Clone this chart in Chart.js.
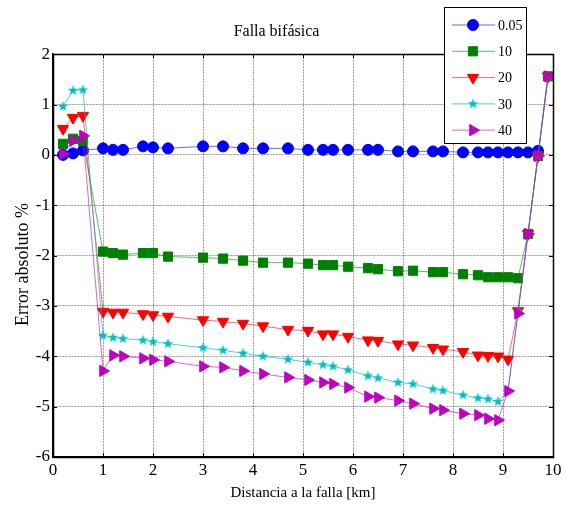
<!DOCTYPE html>
<html>
<head>
<meta charset="utf-8">
<script src="https://cdn.jsdelivr.net/npm/chart.js@4.4.0/dist/chart.umd.min.js"></script>
<style>
  html, body { margin: 0; padding: 0; background: #fff; }
  #wrap { width: 568px; height: 506px; }
</style>
</head>
<body>
<div id="wrap"><canvas id="c" width="568" height="506"></canvas></div>
<script>
// Distancia a la falla (km) de cada caso simulado
const distanciaKm = [0.2, 0.4, 0.6, 1.0, 1.2, 1.4, 1.8, 2.0, 2.3, 3.0, 3.4, 3.8, 4.2, 4.7, 5.1, 5.4, 5.6,
  5.9, 6.3, 6.5, 6.9, 7.2, 7.6, 7.8, 8.2, 8.5, 8.7, 8.9, 9.1, 9.3, 9.5, 9.7, 9.9];

// Resistencia de falla (ohm) de cada serie
const serieLabels = ['0.05', '10', '20', '30', '40'];

// Error absoluto (%) por serie
const err005 = [0.00, 0.03, 0.09, 0.13, 0.10, 0.10, 0.17, 0.15, 0.13, 0.17, 0.17, 0.13, 0.13, 0.13, 0.10, 0.10,
  0.10, 0.10, 0.10, 0.10, 0.07, 0.07, 0.07, 0.07, 0.05, 0.05, 0.05, 0.05, 0.05, 0.05, 0.05, 0.08];
const err10 = [0.22, 0.32, 0.28, -1.92, -1.95, -1.98, -1.95, -1.95, -2.02, -2.04, -2.06, -2.10, -2.14, -2.14,
  -2.16, -2.19, -2.19, -2.22, -2.25, -2.27, -2.31, -2.30, -2.33, -2.33, -2.37, -2.39, -2.43, -2.43, -2.43,
  -2.45, -1.57, -0.02, 1.56];
const err20 = [0.52, 0.74, 0.78, -3.11, -3.13, -3.13, -3.16, -3.18, -3.21, -3.28, -3.31, -3.35, -3.40, -3.47,
  -3.49, -3.56, -3.56, -3.61, -3.68, -3.69, -3.76, -3.78, -3.83, -3.86, -3.91, -3.98, -3.99, -4.00, -4.06,
  -3.10, -1.57, -0.02, 1.56];
const err30 = [0.96, 1.28, 1.29, -3.59, -3.63, -3.65, -3.68, -3.71, -3.75, -3.83, -3.88, -3.94, -4.00, -4.06,
  -4.12, -4.17, -4.20, -4.27, -4.39, -4.43, -4.52, -4.55, -4.65, -4.68, -4.77, -4.83, -4.85, -4.90, -4.69,
  -3.10, -1.57, -0.02, 1.56];
const err40 = [0.02, 0.28, 0.38, -4.29, -3.98, -4.00, -4.04, -4.07, -4.10, -4.20, -4.22, -4.29, -4.35, -4.42,
  -4.47, -4.52, -4.55, -4.62, -4.80, -4.82, -4.88, -4.94, -5.04, -5.07, -5.14, -5.17, -5.24, -5.27, -4.69,
  -3.15, -1.57, -0.02, 1.56];

const xTicks = [0, 1, 2, 3, 4, 5, 6, 7, 8, 9, 10];
const yTicks = [-6, -5, -4, -3, -2, -1, 0, 1, 2];

const SERIF = '"Liberation Serif", "Times New Roman", serif';

// Filled five-pointed star used as a point marker
function makeStar(color, outer) {
  const size = Math.ceil(outer * 2 + 2);
  const cv = document.createElement('canvas');
  cv.width = size; cv.height = size;
  const g = cv.getContext('2d');
  const c = size / 2, inner = outer * 0.42;
  g.beginPath();
  for (let k = 0; k < 10; k++) {
    const r = k % 2 === 0 ? outer : inner;
    const a = -Math.PI / 2 + k * Math.PI / 5;
    const px = c + r * Math.cos(a), py = c + r * Math.sin(a);
    if (k === 0) g.moveTo(px, py); else g.lineTo(px, py);
  }
  g.closePath();
  g.fillStyle = color;
  g.fill();
  return cv;
}

const pairs = ys => ys.map((y, i) => ({ x: distanciaKm[i], y }));

const styles = [
  { color: '#0000ff', line: 'rgba(0,0,255,0.6)', pointStyle: 'circle', radius: 5.5, rotation: 0 },
  { color: '#008000', line: 'rgba(0,128,0,0.6)', pointStyle: 'rect', radius: 6.5, rotation: 0 },
  { color: '#ff0000', line: 'rgba(255,0,0,0.6)', pointStyle: 'triangle', radius: 6.5, rotation: 180 },
  { color: '#00bfbf', line: 'rgba(0,191,191,0.7)', pointStyle: makeStar('#00bfbf', 5.5), radius: 5, rotation: 0 },
  { color: '#bf00bf', line: 'rgba(191,0,191,0.6)', pointStyle: 'triangle', radius: 6.5, rotation: 90 }
];
const seriesValues = [err005, err10, err20, err30, err40];

const datasets = seriesValues.map((vals, i) => ({
  label: serieLabels[i],
  data: pairs(vals),
  borderColor: styles[i].line,
  borderWidth: 1,
  backgroundColor: styles[i].color,
  pointBackgroundColor: styles[i].color,
  pointBorderColor: styles[i].color,
  pointBorderWidth: 1,
  pointStyle: styles[i].pointStyle,
  pointRadius: styles[i].radius,
  pointRotation: styles[i].rotation,
  tension: 0,
  // later series are painted on top
  order: seriesValues.length - i
}));

// Axes box with inward tick marks on all four sides
const framePlugin = {
  id: 'frame',
  afterDatasetsDraw(chart) {
    const { ctx, chartArea: a, scales } = chart;
    ctx.save();
    ctx.strokeStyle = '#000';
    ctx.lineWidth = 1;
    ctx.beginPath();
    xTicks.forEach(v => {
      const px = Math.round(scales.x.getPixelForValue(v)) + 0.5;
      ctx.moveTo(px, a.bottom); ctx.lineTo(px, a.bottom - 4);
      ctx.moveTo(px, a.top); ctx.lineTo(px, a.top + 4);
    });
    yTicks.forEach(v => {
      const py = Math.round(scales.y.getPixelForValue(v)) + 0.5;
      ctx.moveTo(a.left, py); ctx.lineTo(a.left + 4, py);
      ctx.moveTo(a.right, py); ctx.lineTo(a.right - 4, py);
    });
    ctx.stroke();
    ctx.lineWidth = 1.5;
    ctx.strokeRect(Math.round(a.left) + 0.5, Math.round(a.top) + 0.5,
      Math.round(a.right - a.left), Math.round(a.bottom - a.top));
    ctx.restore();
  }
};

// Boxed legend in the upper right corner
const boxLegendPlugin = {
  id: 'boxLegend',
  afterDraw(chart) {
    const { ctx } = chart;
    const bx = 444, by = 7, bw = 82, bh = 136;
    ctx.save();
    ctx.fillStyle = '#fff';
    ctx.fillRect(bx, by, bw, bh);
    ctx.strokeStyle = '#000';
    ctx.lineWidth = 1;
    ctx.strokeRect(bx + 0.5, by + 0.5, bw, bh);
    chart.data.datasets.forEach((ds, i) => {
      const y = 25 + i * 26.3;
      ctx.strokeStyle = ds.borderColor;
      ctx.lineWidth = 1;
      ctx.beginPath();
      ctx.moveTo(452, y); ctx.lineTo(495, y);
      ctx.stroke();
      ctx.fillStyle = ds.pointBackgroundColor;
      ctx.strokeStyle = ds.pointBorderColor;
      Chart.helpers.drawPoint(ctx, {
        pointStyle: ds.pointStyle, rotation: ds.pointRotation,
        radius: ds.pointRadius, borderWidth: 1
      }, 473, y);
      ctx.fillStyle = '#000';
      ctx.font = '14px ' + SERIF;
      ctx.textAlign = 'left';
      ctx.textBaseline = 'middle';
      ctx.fillText(ds.label, 498, y + 1);
    });
    ctx.restore();
  }
};

new Chart(document.getElementById('c'), {
  type: 'line',
  data: { datasets },
  options: {
    responsive: false,
    animation: false,
    devicePixelRatio: 1,
    layout: { padding: { left: 0, right: 15, top: 0, bottom: 0 } },
    plugins: {
      legend: { display: false },
      tooltip: { enabled: false },
      title: {
        display: true,
        text: 'Falla bifásica',
        color: '#000',
        font: { family: SERIF, size: 16, weight: 'normal', lineHeight: 1.2 },
        padding: { top: 22, bottom: 13 }
      }
    },
    scales: {
      x: {
        type: 'linear',
        min: 0, max: 10,
        afterBuildTicks: s => { s.ticks = xTicks.map(v => ({ value: v })); },
        afterFit: s => { s.height = 49; s.paddingLeft = 0; s.paddingRight = 0; },
        ticks: {
          color: '#000', padding: 3, maxRotation: 0, autoSkip: false,
          font: { family: SERIF, size: 17 }
        },
        grid: { color: 'rgba(0,0,0,0.4)', drawTicks: false, lineWidth: 1 },
        border: { color: '#000', width: 1.5, dash: [2, 1] },
        title: {
          display: true, text: 'Distancia a la falla [km]', color: '#000',
          font: { family: SERIF, size: 15, lineHeight: 1.2 },
          padding: { top: 0, bottom: 4 }
        }
      },
      y: {
        type: 'linear',
        min: -6, max: 2,
        afterBuildTicks: s => { s.ticks = yTicks.map(v => ({ value: v })); },
        afterFit: s => { s.width = 53; s.paddingTop = 0; s.paddingBottom = 0; },
        ticks: {
          color: '#000', padding: 3, autoSkip: false,
          font: { family: SERIF, size: 17 }
        },
        grid: { color: 'rgba(0,0,0,0.4)', drawTicks: false, lineWidth: 1 },
        border: { color: '#000', width: 1.5, dash: [2, 1] },
        title: {
          display: true, text: 'Error absoluto %    ', color: '#000',
          font: { family: SERIF, size: 18, lineHeight: 1.2 },
          padding: { top: 12, bottom: 0 }
        }
      }
    }
  },
  plugins: [framePlugin, boxLegendPlugin]
});
</script>
</body>
</html>
